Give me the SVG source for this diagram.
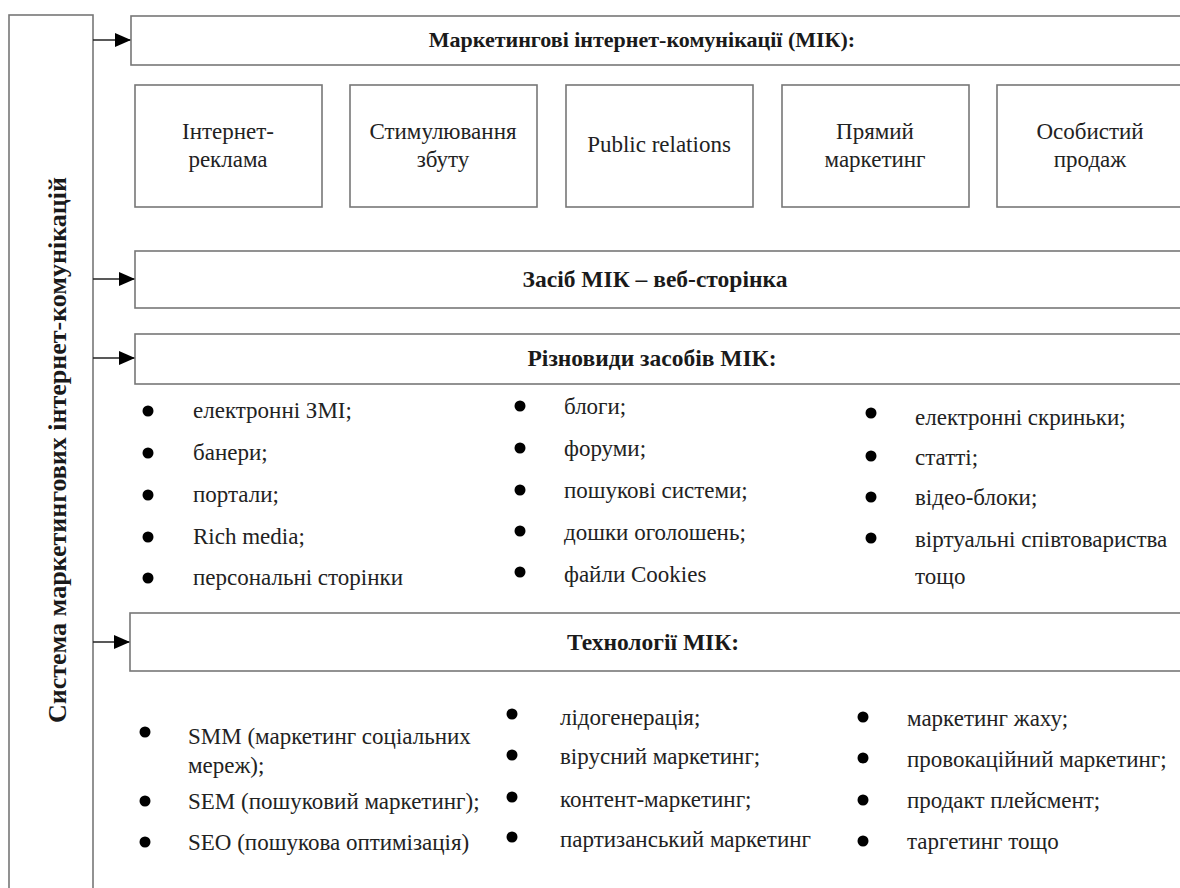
<svg xmlns="http://www.w3.org/2000/svg" width="1180" height="888" viewBox="0 0 1180 888">
<defs>
<style>
.box{fill:#fff;stroke:#777;stroke-width:1.6}
.hd{font-family:"Liberation Serif","Times New Roman",serif;font-weight:bold;font-size:23.5px;fill:#1a1a1a;text-anchor:middle}
.bt{font-family:"Liberation Serif","Times New Roman",serif;font-size:23px;fill:#222;text-anchor:middle}
.li{font-family:"Liberation Serif","Times New Roman",serif;font-size:23px;fill:#222}
.dot{fill:#000}
.con{stroke:#222;stroke-width:1.4;fill:none}
</style>
<marker id="ah" markerWidth="16" markerHeight="14" refX="16" refY="7" orient="auto" markerUnits="userSpaceOnUse">
<path d="M0,0 L16,7 L0,14 Z" fill="#000"/>
</marker>
</defs>
<rect width="1180" height="888" fill="#fff"/>

<g id="system">
<rect class="box" x="9" y="15" width="84" height="890"/>
<text class="hd" transform="translate(60,450) rotate(-90)" style="font-size:26px" dominant-baseline="middle">Система маркетингових інтернет-комунікацій</text>
</g>

<g id="connectors">
<line class="con" x1="93" y1="40" x2="131" y2="40" marker-end="url(#ah)"/>
<line class="con" x1="93" y1="279" x2="135" y2="279" marker-end="url(#ah)"/>
<line class="con" x1="93" y1="358" x2="135" y2="358" marker-end="url(#ah)"/>
<line class="con" x1="93" y1="642" x2="130" y2="642" marker-end="url(#ah)"/>
</g>

<g id="mik">
<rect class="box" x="131" y="16" width="1060" height="49"/>
<text class="hd" x="642" y="47" style="font-size:22px">Маркетингові інтернет-комунікації (МІК):</text>
</g>

<g id="box-internet-ad">
<rect class="box" x="135" y="85" width="187" height="122"/>
<text class="bt" x="228" y="139">Інтернет-</text>
<text class="bt" x="228" y="167">реклама</text>
</g>
<g id="box-sales">
<rect class="box" x="350" y="85" width="187" height="122"/>
<text class="bt" x="443" y="139">Стимулювання</text>
<text class="bt" x="443" y="167">збуту</text>
</g>
<g id="box-pr">
<rect class="box" x="566" y="85" width="187" height="122"/>
<text class="bt" x="659" y="152">Public relations</text>
</g>
<g id="box-direct">
<rect class="box" x="782" y="85" width="187" height="122"/>
<text class="bt" x="875" y="139">Прямий</text>
<text class="bt" x="875" y="167">маркетинг</text>
</g>
<g id="box-personal">
<rect class="box" x="997" y="85" width="200" height="122"/>
<text class="bt" x="1090" y="139">Особистий</text>
<text class="bt" x="1090" y="167">продаж</text>
</g>

<g id="means">
<rect class="box" x="135" y="251" width="1060" height="57"/>
<text class="hd" x="655" y="287">Засіб МІК – веб-сторінка</text>
</g>

<g id="kinds">
<rect class="box" x="135" y="334" width="1060" height="50"/>
<text class="hd" x="652" y="366">Різновиди засобів МІК:</text>
</g>

<g id="kinds-list">
<circle class="dot" cx="148" cy="411" r="5.5"/><text class="li" x="193" y="418">електронні ЗМІ;</text>
<circle class="dot" cx="148" cy="453" r="5.5"/><text class="li" x="193" y="460">банери;</text>
<circle class="dot" cx="148" cy="495" r="5.5"/><text class="li" x="193" y="502">портали;</text>
<circle class="dot" cx="148" cy="537" r="5.5"/><text class="li" x="193" y="544">Rich media;</text>
<circle class="dot" cx="148" cy="578" r="5.5"/><text class="li" x="193" y="585">персональні сторінки</text>

<circle class="dot" cx="520" cy="406" r="5.5"/><text class="li" x="564" y="414">блоги;</text>
<circle class="dot" cx="520" cy="448" r="5.5"/><text class="li" x="564" y="456">форуми;</text>
<circle class="dot" cx="520" cy="490" r="5.5"/><text class="li" x="564" y="498">пошукові системи;</text>
<circle class="dot" cx="520" cy="531" r="5.5"/><text class="li" x="564" y="540">дошки оголошень;</text>
<circle class="dot" cx="520" cy="572" r="5.5"/><text class="li" x="564" y="582">файли Cookies</text>

<circle class="dot" cx="871" cy="413" r="5.5"/><text class="li" x="915" y="425">електронні скриньки;</text>
<circle class="dot" cx="871" cy="456" r="5.5"/><text class="li" x="915" y="465">статті;</text>
<circle class="dot" cx="871" cy="497" r="5.5"/><text class="li" x="915" y="505">відео-блоки;</text>
<circle class="dot" cx="871" cy="538" r="5.5"/><text class="li" x="915" y="547">віртуальні співтовариства</text>
<text class="li" x="915" y="584">тощо</text>
</g>

<g id="tech">
<rect class="box" x="130" y="613" width="1060" height="58"/>
<text class="hd" x="653" y="650">Технології МІК:</text>
</g>

<g id="tech-list">
<circle class="dot" cx="145" cy="732" r="5.5"/><text class="li" x="188" y="744">SMM (маркетинг соціальних</text>
<text class="li" x="188" y="773">мереж);</text>
<circle class="dot" cx="145" cy="801" r="5.5"/><text class="li" x="188" y="809">SEM (пошуковий маркетинг);</text>
<circle class="dot" cx="145" cy="842" r="5.5"/><text class="li" x="188" y="850">SEO (пошукова оптимізація)</text>

<circle class="dot" cx="512" cy="714" r="5.5"/><text class="li" x="560" y="725">лідогенерація;</text>
<circle class="dot" cx="512" cy="755" r="5.5"/><text class="li" x="560" y="764">вірусний маркетинг;</text>
<circle class="dot" cx="512" cy="797" r="5.5"/><text class="li" x="560" y="807">контент-маркетинг;</text>
<circle class="dot" cx="512" cy="837" r="5.5"/><text class="li" x="560" y="847">партизанський маркетинг</text>

<circle class="dot" cx="863" cy="717" r="5.5"/><text class="li" x="907" y="726">маркетинг жаху;</text>
<circle class="dot" cx="863" cy="758" r="5.5"/><text class="li" x="907" y="767">провокаційний маркетинг;</text>
<circle class="dot" cx="863" cy="800" r="5.5"/><text class="li" x="907" y="808">продакт плейсмент;</text>
<circle class="dot" cx="863" cy="841" r="5.5"/><text class="li" x="907" y="849">таргетинг тощо</text>
</g>
</svg>
